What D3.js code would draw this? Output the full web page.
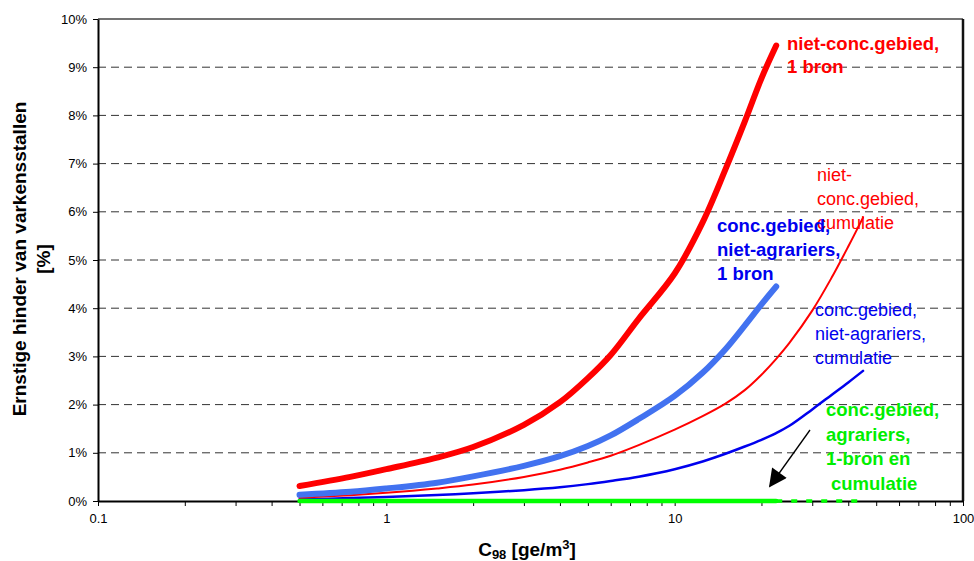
<!DOCTYPE html>
<html>
<head>
<meta charset="utf-8">
<script src="https://cdn.jsdelivr.net/npm/d3@7"></script>
<style>
  body { margin: 0; background: #fff; }
  svg { font-family: Arial, "Liberation Sans", sans-serif; }
  .tick text { font-size: 13px; fill: #000; }
</style>
</head>
<body>
<svg id="chart" width="974" height="561"></svg>
<script>
// concentration C98 [ge/m3] and serious odour annoyance [%]
const xOneSource = [0.5, 0.75, 1, 1.5, 2, 3, 4, 5, 6, 7.5, 10, 12.5, 15, 17.5, 20, 22.5];
const xCumulative = [0.5, 0.75, 1, 1.5, 2, 3, 4, 5, 6, 7.5, 10, 12.5, 15, 17.5, 20, 22.5, 25, 30, 35, 40, 45];

const nietConc1Bron = [0.31, 0.50, 0.66, 0.90, 1.12, 1.58, 2.05, 2.55, 3.03, 3.78, 4.72, 5.78, 6.88, 7.87, 8.77, 9.45];
const concNietAgr1Bron = [0.13, 0.19, 0.26, 0.38, 0.51, 0.73, 0.93, 1.14, 1.36, 1.70, 2.18, 2.66, 3.15, 3.64, 4.08, 4.45];
const nietConcCumulatie = [0.07, 0.12, 0.17, 0.26, 0.34, 0.50, 0.65, 0.80, 0.94, 1.16, 1.48, 1.76, 2.02, 2.30, 2.62, 2.95, 3.28, 3.95, 4.63, 5.28, 5.88];
const concNietAgrCumulatie = [0.035, 0.06, 0.085, 0.125, 0.16, 0.225, 0.285, 0.35, 0.415, 0.505, 0.66, 0.82, 0.98, 1.13, 1.27, 1.41, 1.56, 1.90, 2.20, 2.46, 2.70];
const xAgrariers = [0.5, 22.5];
const concAgrariers = [0, 0];
const xAgrariersCum = [22.5, 45];
const concAgrariersCum = [0, 0];

const yTicks = [0, 1, 2, 3, 4, 5, 6, 7, 8, 9, 10];
const xMajor = [0.1, 1, 10, 100];

const svg = d3.select('#chart');
const x = d3.scaleLog().domain([0.1, 100]).range([98, 963]);
const y = d3.scaleLinear().domain([0, 10]).range([501, 19]);

// Gridlines
svg.append('g')
    .selectAll('line')
    .data(yTicks.filter(d => d > 0 && d < 10))
    .enter()
    .append('line')
    .attr('x1', x(0.1)).attr('x2', x(100))
    .attr('y1', d => y(d)).attr('y2', d => y(d))
    .attr('stroke', '#333')
    .attr('stroke-width', 1)
    .attr('stroke-dasharray', '8,5');

// Plot frame (top and right)
svg.append('line')
    .attr('x1', x(0.1)).attr('x2', x(100))
    .attr('y1', y(10)).attr('y2', y(10))
    .attr('stroke', '#444').attr('stroke-width', 1.5);
svg.append('line')
    .attr('x1', x(100)).attr('x2', x(100))
    .attr('y1', y(10)).attr('y2', y(0))
    .attr('stroke', '#111').attr('stroke-width', 2.5);

// Axes
const yAxis = svg.append('g')
    .attr('transform', `translate(${x(0.1)},0)`)
    .call(d3.axisLeft(y).tickValues(yTicks).tickFormat(d => d + '%').tickSize(5).tickSizeOuter(0));

const minorTicks = [];
[0.1, 1, 10].forEach(dec => {
    for (let i = 1; i <= 10; i++) minorTicks.push(+(dec * i).toPrecision(3));
});
const xAxis = svg.append('g')
    .attr('transform', `translate(0,${y(0)})`)
    .call(d3.axisBottom(x).tickValues(Array.from(new Set(minorTicks)))
        .tickFormat(d => xMajor.includes(d) ? String(d) : '')
        .tickSize(5).tickSizeOuter(0));

[yAxis, xAxis].forEach(g => {
    g.select('.domain').attr('stroke', '#000').attr('stroke-width', 2);
    g.selectAll('.tick line').attr('stroke', '#000');
});
yAxis.selectAll('.tick text').attr('x', -11);
xAxis.selectAll('.tick text').attr('y', 13);

// Curves
const line = d3.line()
    .x(d => x(d[0]))
    .y(d => y(d[1]))
    .curve(d3.curveCatmullRom.alpha(0.5));

function drawSeries(xs, ys, color, width, dash) {
    svg.append('path')
        .datum(xs.map((v, i) => [v, ys[i]]))
        .attr('d', line)
        .attr('fill', 'none')
        .attr('stroke', color)
        .attr('stroke-width', width)
        .attr('stroke-linecap', dash ? 'butt' : 'round')
        .attr('stroke-dasharray', dash || null);
}

drawSeries(xCumulative, concNietAgrCumulatie, '#0000ee', 2.5);
drawSeries(xCumulative, nietConcCumulatie, '#ff0000', 2);
drawSeries(xOneSource, concNietAgr1Bron, '#4272f0', 6);
drawSeries(xOneSource, nietConc1Bron, '#ff0000', 6);
drawSeries(xAgrariersCum, concAgrariersCum, '#00ff00', 3.5, '6,9');
drawSeries(xAgrariers, concAgrariers, '#00ff00', 4.5);

// Arrow pointing at the green line
svg.append('defs').append('marker')
    .attr('id', 'arrow')
    .attr('viewBox', '0 0 10 10')
    .attr('refX', 9).attr('refY', 5)
    .attr('markerWidth', 22).attr('markerHeight', 18)
    .attr('markerUnits', 'userSpaceOnUse')
    .attr('orient', 'auto')
    .append('path')
    .attr('d', 'M0,0 L10,5 L0,10 Z')
    .attr('fill', '#000');
svg.append('line')
    .attr('x1', 810).attr('y1', 430)
    .attr('x2', 770).attr('y2', 486)
    .attr('stroke', '#000')
    .attr('stroke-width', 1.3)
    .attr('marker-end', 'url(#arrow)');

// Series labels
function label(lines, px, py, color, bold, step) {
    const t = svg.append('text')
        .attr('fill', color)
        .attr('font-size', bold ? 18.5 : 18)
        .attr('font-weight', bold ? 'bold' : 'normal');
    lines.forEach((s, i) => {
        t.append('tspan')
            .attr('x', px + (s.startsWith(' ') ? 5 : 0))
            .attr('y', py + i * step)
            .text(s.trim());
    });
}

label(['niet-conc.gebied,', '1 bron'], 787, 50, '#ff0000', true, 23);
label(['niet-', 'conc.gebied,', 'cumulatie'], 817, 181, '#ff0000', false, 24);
label(['conc.gebied,', 'niet-agrariers,', '1 bron'], 717, 232, '#0000ee', true, 24);
label(['conc.gebied,', 'niet-agrariers,', 'cumulatie'], 815, 316, '#0000ee', false, 24);
label(['conc.gebied,', 'agrariers,', '1-bron en', ' cumulatie'], 826, 416, '#00ee00', true, 24.5);

// Axis titles
const yTitle = svg.append('text')
    .attr('transform', 'translate(26,259) rotate(-90)')
    .attr('text-anchor', 'middle')
    .attr('font-size', 19)
    .attr('font-weight', 'bold');
yTitle.append('tspan').attr('x', 0).attr('y', 0).text('Ernstige hinder van varkensstallen');
yTitle.append('tspan').attr('x', 0).attr('y', 24).text('[%]');

const xTitle = svg.append('text')
    .attr('x', 527).attr('y', 556)
    .attr('text-anchor', 'middle')
    .attr('font-size', 19)
    .attr('font-weight', 'bold');
xTitle.append('tspan').text('C');
xTitle.append('tspan').attr('font-size', 13).attr('dy', 3).text('98');
xTitle.append('tspan').attr('dy', -3).text(' [ge/m');
xTitle.append('tspan').attr('font-size', 13).attr('dy', -7).text('3');
xTitle.append('tspan').attr('dy', 7).text(']');
</script>
</body>
</html>
